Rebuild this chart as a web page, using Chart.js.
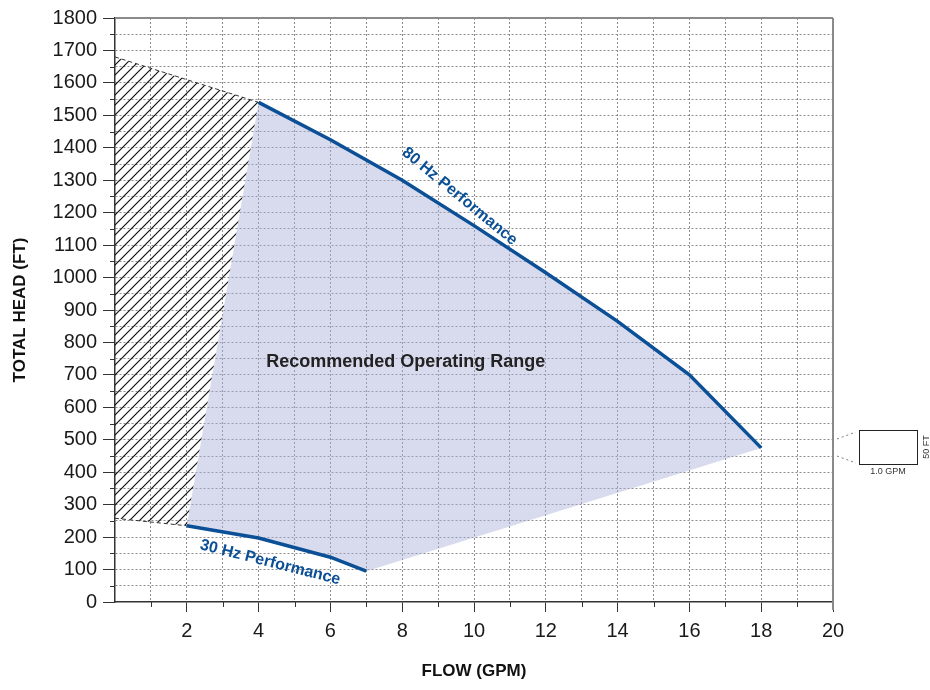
<!DOCTYPE html>
<html>
<head>
<meta charset="utf-8">
<script src="https://cdn.jsdelivr.net/npm/chart.js@4.4.0/dist/chart.umd.min.js"></script>
<style>
  html, body { margin: 0; padding: 0; background: #fff; }
  #wrap { width: 930px; height: 690px; }
</style>
</head>
<body>
<div id="wrap"><canvas id="pump"></canvas></div>
<script>
// 80 Hz curve
var flow80 = [4, 6, 8, 10, 12, 14, 16, 18];
var head80 = [1540, 1425, 1300, 1160, 1015, 865, 700, 475];
// 30 Hz curve
var flow30 = [2, 4, 6, 7];
var head30 = [235, 197, 138, 95];
// hatched (not recommended) zone
var hatchFlow = [0, 4, 2, 0];
var hatchHead = [1680, 1540, 235, 258];
var xLabels = [2, 4, 6, 8, 10, 12, 14, 16, 18, 20];
var yLabels = [0, 100, 200, 300, 400, 500, 600, 700, 800, 900, 1000, 1100, 1200, 1300, 1400, 1500, 1600, 1700, 1800];

var blue = '#0b4f96';
var FONT = '"Liberation Sans", Arial, Helvetica, sans-serif';

function pts(xs, ys) {
  return xs.map(function (x, i) { return { x: x, y: ys[i] }; });
}

function hatch() {
  var c = document.createElement('canvas');
  c.width = 10; c.height = 10;
  var g = c.getContext('2d');
  g.strokeStyle = '#111';
  g.lineWidth = 1.2;
  g.beginPath();
  g.moveTo(0, 10); g.lineTo(10, 0);
  g.moveTo(-5, 5); g.lineTo(5, -5);
  g.moveTo(5, 15); g.lineTo(15, 5);
  g.stroke();
  return g.createPattern(c, 'repeat');
}

// recommended range = 80 Hz curve then 30 Hz curve backwards
var rangePts = pts(flow80, head80).concat(pts(flow30, head30).reverse());
var hatchPts = pts(hatchFlow, hatchHead);

var extras = {
  id: 'extras',
  afterDraw: function (chart) {
    var ctx = chart.ctx, a = chart.chartArea;
    var xs = chart.scales.x, ys = chart.scales.y;
    ctx.save();
    // frame top / right
    ctx.strokeStyle = '#8a8a8a';
    ctx.lineWidth = 2;
    ctx.beginPath();
    ctx.moveTo(a.left, a.top); ctx.lineTo(a.right, a.top);
    ctx.moveTo(a.right, a.top); ctx.lineTo(a.right, a.bottom + 8);
    ctx.stroke();
    // small ticks
    ctx.strokeStyle = '#333';
    ctx.lineWidth = 1;
    ctx.beginPath();
    ctx.moveTo(a.left - 12, a.bottom + 0.5); ctx.lineTo(a.left, a.bottom + 0.5);
    for (var v = 50; v < 1800; v += 100) {
      var y = Math.round(ys.getPixelForValue(v)) + 0.5;
      ctx.moveTo(a.left - 5, y); ctx.lineTo(a.left, y);
    }
    for (var f = 1; f < 20; f += 2) {
      var x = Math.round(xs.getPixelForValue(f)) + 0.5;
      ctx.moveTo(x, a.bottom); ctx.lineTo(x, a.bottom + 5);
    }
    ctx.stroke();

    // curve labels
    function label(txt, fx, fy, p1, p2) {
      var ang = Math.atan2(ys.getPixelForValue(p2[1]) - ys.getPixelForValue(p1[1]),
                           xs.getPixelForValue(p2[0]) - xs.getPixelForValue(p1[0]));
      ctx.save();
      ctx.translate(xs.getPixelForValue(fx), ys.getPixelForValue(fy));
      ctx.rotate(ang);
      ctx.fillStyle = blue;
      ctx.font = 'bold 16px ' + FONT;
      ctx.textAlign = 'center';
      ctx.textBaseline = 'middle';
      ctx.fillText(txt, 0, 0);
      ctx.restore();
    }
    label('80 Hz Performance', 9.6, 1250, [flow80[2], head80[2] + 40], [flow80[4], head80[4] - 40]);
    label('30 Hz Performance', 4.32, 122, [flow30[0], head30[0]], [flow30[3], head30[3]]);

    ctx.fillStyle = '#222';
    ctx.font = 'bold 18px ' + FONT;
    ctx.textAlign = 'center';
    ctx.textBaseline = 'middle';
    ctx.fillText('Recommended Operating Range', xs.getPixelForValue(8.1), ys.getPixelForValue(740));

    // scale key on the right
    ctx.strokeStyle = '#222';
    ctx.lineWidth = 1;
    ctx.strokeRect(859.5, 430.5, 58, 34);
    ctx.setLineDash([2, 3]);
    ctx.strokeStyle = '#777';
    ctx.beginPath();
    ctx.moveTo(837, 439); ctx.lineTo(856, 432);
    ctx.moveTo(837, 456); ctx.lineTo(856, 463);
    ctx.stroke();
    ctx.setLineDash([]);
    ctx.fillStyle = '#333';
    ctx.font = '9px ' + FONT;
    ctx.textAlign = 'center';
    ctx.textBaseline = 'top';
    ctx.fillText('1.0 GPM', 888, 467);
    ctx.save();
    ctx.translate(927, 447);
    ctx.rotate(-Math.PI / 2);
    ctx.textBaseline = 'middle';
    ctx.fillText('50 FT', 0, 0);
    ctx.restore();
    ctx.restore();
  }
};

new Chart(document.getElementById('pump'), {
  type: 'line',
  data: {
    datasets: [
      {
        label: '80 Hz',
        data: pts(flow80, head80),
        borderColor: blue,
        borderWidth: 3.5,
        pointRadius: 0,
        fill: false,
        order: 1
      },
      {
        label: '30 Hz',
        data: pts(flow30, head30),
        borderColor: blue,
        borderWidth: 3.5,
        pointRadius: 0,
        fill: false,
        order: 1
      },
      {
        label: 'hatch top',
        data: [hatchPts[0], hatchPts[1]],
        borderColor: '#333',
        borderWidth: 1,
        borderDash: [4, 3],
        pointRadius: 0,
        fill: false,
        order: 2
      },
      {
        label: 'hatch bottom',
        data: [hatchPts[3], hatchPts[2]],
        borderColor: '#333',
        borderWidth: 1,
        borderDash: [4, 3],
        pointRadius: 0,
        fill: false,
        order: 2
      },
      {
        label: 'range',
        data: rangePts,
        borderWidth: 0,
        borderColor: 'rgba(0,0,0,0)',
        backgroundColor: 'rgba(168,176,214,0.45)',
        pointRadius: 0,
        fill: 'shape',
        order: 3
      },
      {
        label: 'hatch',
        data: hatchPts,
        borderWidth: 0,
        borderColor: 'rgba(0,0,0,0)',
        backgroundColor: hatch(),
        pointRadius: 0,
        fill: 'shape',
        order: 3
      }
    ]
  },
  options: {
    responsive: true,
    maintainAspectRatio: false,
    animation: false,
    layout: { padding: { left: 0, top: 16, right: 97, bottom: 0 } },
    plugins: { legend: { display: false }, tooltip: { enabled: false } },
    elements: { line: { tension: 0 } },
    scales: {
      x: {
        type: 'linear',
        min: 0, max: 20,
        afterBuildTicks: function (s) {
          var t = [];
          for (var i = 0; i <= 20; i++) t.push({ value: i });
          s.ticks = t;
        },
        afterFit: function (s) { s.height = 88; },
        ticks: {
          autoSkip: false, maxRotation: 0, padding: 7,
          color: '#1a1a1a',
          font: { family: FONT, size: 20 },
          callback: function (v) { return xLabels.indexOf(v) >= 0 ? String(v) : ''; }
        },
        grid: {
          color: function (c) { return (c.tick && (c.tick.value === 0 || c.tick.value === 20)) ? 'rgba(0,0,0,0)' : '#8c8c8c'; },
          lineWidth: 1,
          tickLength: 10,
          tickColor: function (c) { return (c.tick && xLabels.indexOf(c.tick.value) >= 0) ? '#333' : 'rgba(0,0,0,0)'; },
          tickBorderDash: []
        },
        border: { display: true, color: '#333', width: 1.5, dash: [2, 2] },
        title: {
          display: true, text: 'FLOW (GPM)', color: '#111',
          font: { family: FONT, size: 17, weight: 'bold' },
          padding: { bottom: 8 }
        }
      },
      y: {
        type: 'linear',
        min: 0, max: 1800,
        afterBuildTicks: function (s) {
          var t = [];
          for (var i = 0; i <= 1800; i += 50) t.push({ value: i });
          s.ticks = t;
        },
        afterFit: function (s) { s.width = 115; },
        ticks: {
          autoSkip: false, padding: 6,
          color: '#1a1a1a',
          font: { family: FONT, size: 20 },
          callback: function (v) { return yLabels.indexOf(v) >= 0 ? String(v) : ''; }
        },
        grid: {
          color: function (c) { return (c.tick && (c.tick.value === 0 || c.tick.value === 1800)) ? 'rgba(0,0,0,0)' : '#8c8c8c'; },
          lineWidth: 1,
          tickLength: 12,
          tickColor: function (c) { return (c.tick && yLabels.indexOf(c.tick.value) >= 0) ? '#333' : 'rgba(0,0,0,0)'; },
          tickBorderDash: []
        },
        border: { display: true, color: '#333', width: 1.5, dash: [2, 2] },
        title: {
          display: true, text: 'TOTAL HEAD (FT)', color: '#111',
          font: { family: FONT, size: 17, weight: 'bold' },
          padding: { top: 10 }
        }
      }
    }
  },
  plugins: [extras]
});
</script>
</body>
</html>
